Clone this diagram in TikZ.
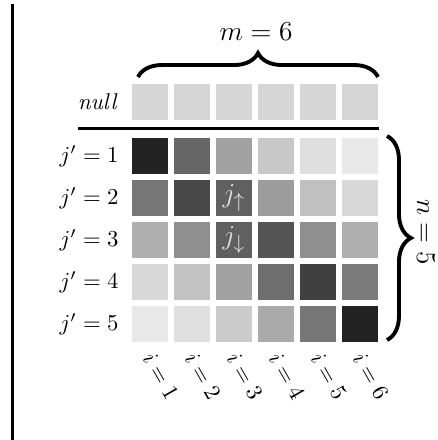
\documentclass[tikz,border=0pt]{standalone}
\usetikzlibrary{decorations.pathreplacing}
\begin{document}
\begin{tikzpicture}[x=0.4386pt,y=-0.4386pt,
  cell/.style={minimum size=15.79pt, inner sep=0pt, outer sep=0pt, draw=none},
  lab/.style={anchor=east, inner sep=0pt},
  big/.style={font=\fontsize{12.9}{15}\selectfont},
  brc/.style={decorate, decoration={brace, amplitude=10.5pt}, line width=1.7pt}]
\useasboundingbox (0,0) rectangle (437,440);
% left rule
\coordinate (lt) at (12.7,4);
\coordinate (lb) at (12.7,440);
\draw[line width=1.2pt] (lt) -- (lb);
% null row
\foreach \c in {1,...,6}{
  \node[cell, fill={rgb,255:red,214;green,214;blue,214}] (n\c) at ({150+42*(\c-1)},102) {};
}
\node[lab] (nulllab) at (118,102) {\textit{null}};
% separator
\coordinate (hl) at (78,128.5);
\coordinate (hr) at (379,128.5);
\draw[line width=0.9pt] (hl) -- (hr);
% matrix
\foreach \r/\vals in {1/{34,102,162,200,222,232},
                      2/{119,72,96,156,192,216},
                      3/{176,144,96,85,143,176},
                      4/{216,194,162,110,64,122},
                      5/{232,224,204,170,119,34}}{
  \node[lab] (r\r) at (119,{156+42*(\r-1)}) {$j'=\r$};
  \foreach \v [count=\c] in \vals {
    \definecolor{tmp}{RGB}{\v,\v,\v}
    \node[cell, fill=tmp] (c\r\c) at ({150+42*(\c-1)},{156+42*(\r-1)}) {};
  }
}
\node[big, text={rgb,255:red,228;green,228;blue,228}] at (c23) {$j_\uparrow$};
\node[big, text={rgb,255:red,228;green,228;blue,228}] at (c33) {$j_\downarrow$};
% column labels
\foreach \c in {1,...,6}{
  \node[rotate=-60, inner sep=0pt] (i\c) at ({161+42*(\c-1)},376) {$i=\c$};
}
% braces
\coordinate (tb1) at (138,77);
\coordinate (tb2) at (378,77);
\draw[brc] (tb1) -- (tb2);
\node[big] (mlab) at (256,32) {$m=6$};
\coordinate (rb1) at (387,136);
\coordinate (rb2) at (387,340);
\draw[brc] (rb1) -- (rb2);
\node[big, rotate=-90, inner sep=0pt] (nlab) at (426,232) {$n=5$};
\end{tikzpicture}
\end{document}
